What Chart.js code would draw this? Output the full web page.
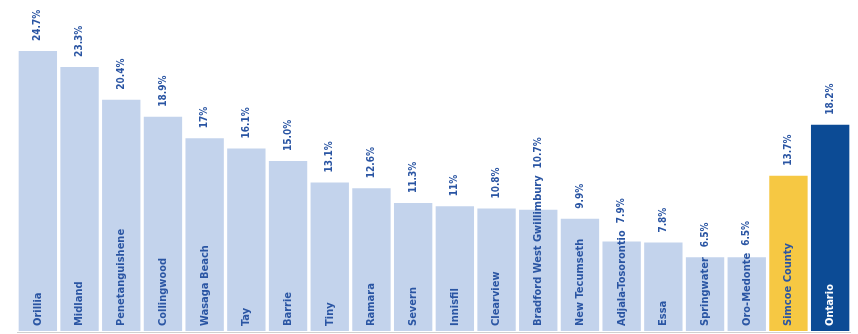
<!DOCTYPE html>
<html>
<head>
<meta charset="utf-8">
<script src="https://cdn.jsdelivr.net/npm/chart.js@4"></script>
<style>
  html, body { margin: 0; padding: 0; background: #fff; }
  #wrap { width: 858px; height: 334px; }
</style>
</head>
<body>
<div id="wrap"><canvas id="rateChart"></canvas></div>
<script>
const places = ['Orillia', 'Midland', 'Penetanguishene', 'Collingwood', 'Wasaga Beach', 'Tay', 'Barrie', 'Tiny',
    'Ramara', 'Severn', 'Innisfil', 'Clearview', 'Bradford West Gwillimbury', 'New Tecumseth', 'Adjala-Tosorontio',
    'Essa', 'Springwater', 'Oro-Medonte', 'Simcoe County', 'Ontario'];
const rates = [24.7, 23.3, 20.4, 18.9, 17, 16.1, 15.0, 13.1, 12.6, 11.3, 11, 10.8, 10.7, 9.9, 7.9, 7.8, 6.5, 6.5, 13.7, 18.2];
const rateLabels = ['24.7%', '23.3%', '20.4%', '18.9%', '17%', '16.1%', '15.0%', '13.1%', '12.6%', '11.3%', '11%',
    '10.8%', '10.7%', '9.9%', '7.9%', '7.8%', '6.5%', '6.5%', '13.7%', '18.2%'];

const barColors = places.map(function (p) {
    if (p === 'Simcoe County') return '#f6c843';
    if (p === 'Ontario') return '#0c4b95';
    return '#c3d3ec';
});

const nameFont = 'bold 11px "Liberation Sans Narrow", "DejaVu Sans Condensed", sans-serif';
const rateFont = 'bold 10px "Liberation Sans Narrow", "DejaVu Sans Condensed", sans-serif';

// draws the rotated place names inside the bars and the rates above them
const barText = {
    id: 'barText',
    afterDatasetsDraw(chart) {
        const ctx = chart.ctx;
        const area = chart.chartArea;
        const meta = chart.getDatasetMeta(0);
        ctx.save();
        ctx.strokeStyle = '#d0d0d0';
        ctx.lineWidth = 1;
        ctx.beginPath();
        ctx.moveTo(area.left, area.bottom + 1.5);
        ctx.lineTo(area.right, area.bottom + 1.5);
        ctx.stroke();

        ctx.textBaseline = 'middle';
        ctx.textAlign = 'left';
        meta.data.forEach(function (bar, i) {
            const x = bar.x;
            ctx.font = nameFont;
            const nameW = ctx.measureText(places[i]).width;
            const nameStart = area.bottom - 5;
            const nameTop = nameStart - nameW;

            ctx.save();
            ctx.translate(x, nameStart);
            ctx.rotate(-Math.PI / 2);
            ctx.fillStyle = places[i] === 'Ontario' ? '#ffffff' : '#2a55a3';
            ctx.fillText(places[i], 0, 0);
            ctx.restore();

            let valStart = bar.y - 10;
            if (nameTop - 7 < valStart) valStart = nameTop - 7;
            ctx.save();
            ctx.font = rateFont;
            ctx.translate(x, valStart);
            ctx.rotate(-Math.PI / 2);
            ctx.fillStyle = '#2a55a3';
            ctx.fillText(rateLabels[i], 0, 0);
            ctx.restore();
        });
        ctx.restore();
    }
};

new Chart(document.getElementById('rateChart'), {
    type: 'bar',
    data: {
        labels: places,
        datasets: [{
            data: rates,
            backgroundColor: barColors,
            borderWidth: 0,
            barPercentage: 0.92,
            categoryPercentage: 1.0
        }]
    },
    options: {
        responsive: true,
        maintainAspectRatio: false,
        animation: false,
        layout: { padding: { left: 17, right: 7, top: 0, bottom: 3 } },
        scales: {
            x: { display: false },
            y: { display: false, min: 0, max: 29.2 }
        },
        plugins: {
            legend: { display: false },
            tooltip: { enabled: false }
        }
    },
    plugins: [barText]
});
</script>
</body>
</html>
